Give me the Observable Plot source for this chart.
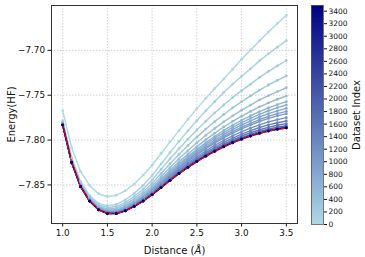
<!DOCTYPE html>
<html>
<head>
<meta charset="utf-8">
<script src="https://cdn.jsdelivr.net/npm/d3@7"></script>
<script src="https://cdn.jsdelivr.net/npm/@observablehq/plot@0.6"></script>
<style>
  html, body { margin: 0; padding: 0; background: #fff; }
  #wrap { position: relative; width: 365px; height: 257px; font-family: "DejaVu Sans", sans-serif; }
  #main { position: absolute; left: 0; top: 0; }
  #cbar { position: absolute; left: 300px; top: 0; }
</style>
</head>
<body>
<div id="wrap"><div id="main"></div><div id="cbar"></div></div>
<script>
const distances = [1.0,1.1,1.2,1.3,1.4,1.5,1.6,1.7,1.8,1.9,2.0,2.1,2.2,2.3,2.4,2.5,2.6,2.7,2.8,2.9,3.0,3.1,3.2,3.3,3.4,3.5];

const datasetIndex = [0,100,200,300,400,500,600,700,800,900,1000,1200,1400,1600,1800,2200,3490];

const energy0    = [-7.7673,-7.8085,-7.8350,-7.8505,-7.8598,-7.8629,-7.8615,-7.8565,-7.8490,-7.8390,-7.8280,-7.8150,-7.8020,-7.7895,-7.7770,-7.7650,-7.7535,-7.7425,-7.7320,-7.7210,-7.7100,-7.6995,-7.6895,-7.6795,-7.6700,-7.6610];
const energy100  = [-7.7784,-7.8196,-7.8462,-7.8617,-7.8705,-7.8731,-7.8718,-7.8668,-7.8594,-7.8505,-7.8396,-7.8267,-7.8138,-7.8015,-7.7896,-7.7782,-7.7674,-7.7570,-7.7471,-7.7377,-7.7289,-7.7205,-7.7117,-7.7038,-7.6964,-7.6891];
const energy200  = [-7.7795,-7.8209,-7.8475,-7.8631,-7.8722,-7.8751,-7.8741,-7.8696,-7.8627,-7.8545,-7.8445,-7.8327,-7.8209,-7.8097,-7.7989,-7.7887,-7.7789,-7.7696,-7.7609,-7.7526,-7.7449,-7.7376,-7.7301,-7.7234,-7.7173,-7.7113];
const energy300  = [-7.7804,-7.8218,-7.8485,-7.8642,-7.8734,-7.8767,-7.8759,-7.8717,-7.8653,-7.8575,-7.8482,-7.8373,-7.8264,-7.8160,-7.8061,-7.7967,-7.7878,-7.7794,-7.7715,-7.7641,-7.7572,-7.7508,-7.7443,-7.7386,-7.7334,-7.7284];
const energy400  = [-7.7811,-7.8225,-7.8493,-7.8651,-7.8744,-7.8779,-7.8773,-7.8734,-7.8673,-7.8599,-7.8511,-7.8409,-7.8307,-7.8209,-7.8117,-7.8029,-7.7947,-7.7870,-7.7797,-7.7730,-7.7667,-7.7610,-7.7553,-7.7504,-7.7459,-7.7417];
const energy500  = [-7.7815,-7.8230,-7.8499,-7.8657,-7.8751,-7.8787,-7.8783,-7.8745,-7.8687,-7.8616,-7.8532,-7.8434,-7.8336,-7.8243,-7.8155,-7.8073,-7.7995,-7.7922,-7.7854,-7.7791,-7.7734,-7.7681,-7.7630,-7.7585,-7.7545,-7.7509];
const energy600  = [-7.7818,-7.8234,-7.8502,-7.8661,-7.8756,-7.8793,-7.8789,-7.8753,-7.8696,-7.8627,-7.8546,-7.8451,-7.8356,-7.8267,-7.8182,-7.8102,-7.8028,-7.7958,-7.7893,-7.7834,-7.7779,-7.7729,-7.7682,-7.7641,-7.7605,-7.7572];
const energy700  = [-7.7820,-7.8236,-7.8505,-7.8663,-7.8759,-7.8796,-7.8793,-7.8758,-7.8702,-7.8634,-7.8554,-7.8461,-7.8368,-7.8280,-7.8197,-7.8120,-7.8047,-7.7979,-7.7916,-7.7858,-7.7806,-7.7758,-7.7713,-7.7673,-7.7639,-7.7609];
const energy800  = [-7.7822,-7.8238,-7.8507,-7.8666,-7.8762,-7.8799,-7.8797,-7.8763,-7.8707,-7.8641,-7.8562,-7.8471,-7.8380,-7.8294,-7.8213,-7.8137,-7.8066,-7.8000,-7.7939,-7.7883,-7.7832,-7.7786,-7.7743,-7.7706,-7.7674,-7.7646];
const energy900  = [-7.7824,-7.8240,-7.8509,-7.8668,-7.8764,-7.8802,-7.8801,-7.8767,-7.8712,-7.8647,-7.8569,-7.8480,-7.8391,-7.8307,-7.8227,-7.8153,-7.8084,-7.8020,-7.7960,-7.7906,-7.7857,-7.7813,-7.7771,-7.7736,-7.7706,-7.7680];
const energy1000 = [-7.7825,-7.8241,-7.8510,-7.8670,-7.8766,-7.8805,-7.8803,-7.8770,-7.8716,-7.8651,-7.8575,-7.8487,-7.8399,-7.8316,-7.8238,-7.8165,-7.8097,-7.8034,-7.7976,-7.7923,-7.7876,-7.7833,-7.7793,-7.7759,-7.7731,-7.7706];
const energy1200 = [-7.7827,-7.8244,-7.8513,-7.8673,-7.8769,-7.8809,-7.8808,-7.8776,-7.8723,-7.8659,-7.8585,-7.8499,-7.8413,-7.8332,-7.8257,-7.8186,-7.8120,-7.8059,-7.8004,-7.7953,-7.7907,-7.7866,-7.7830,-7.7798,-7.7772,-7.7750];
const energy1400 = [-7.7829,-7.8246,-7.8515,-7.8675,-7.8772,-7.8812,-7.8812,-7.8780,-7.8728,-7.8666,-7.8593,-7.8509,-7.8425,-7.8346,-7.8272,-7.8203,-7.8139,-7.8081,-7.8027,-7.7978,-7.7934,-7.7895,-7.7860,-7.7831,-7.7807,-7.7787];
const energy1600 = [-7.7831,-7.8247,-7.8517,-7.8677,-7.8774,-7.8815,-7.8815,-7.8784,-7.8733,-7.8671,-7.8599,-7.8517,-7.8435,-7.8357,-7.8285,-7.8217,-7.8155,-7.8098,-7.8045,-7.7998,-7.7955,-7.7918,-7.7885,-7.7858,-7.7835,-7.7817];
const energy1800 = [-7.7832,-7.8249,-7.8518,-7.8678,-7.8776,-7.8817,-7.8817,-7.8787,-7.8736,-7.8675,-7.8604,-7.8523,-7.8442,-7.8366,-7.8294,-7.8228,-7.8167,-7.8111,-7.8059,-7.8013,-7.7972,-7.7936,-7.7904,-7.7878,-7.7856,-7.7840];
const energy2200 = [-7.7833,-7.8250,-7.8520,-7.8680,-7.8777,-7.8818,-7.8819,-7.8789,-7.8739,-7.8678,-7.8608,-7.8527,-7.8447,-7.8371,-7.8301,-7.8235,-7.8175,-7.8119,-7.8069,-7.8023,-7.7983,-7.7947,-7.7917,-7.7891,-7.7871,-7.7855];
const energyFinal = [-7.7833,-7.8250,-7.8520,-7.8680,-7.8778,-7.8819,-7.8820,-7.8790,-7.8740,-7.8680,-7.8610,-7.8530,-7.8450,-7.8375,-7.8305,-7.8240,-7.8180,-7.8125,-7.8075,-7.8030,-7.7990,-7.7955,-7.7925,-7.7900,-7.7880,-7.7865];
const reference  = [-7.7833,-7.8250,-7.8520,-7.8680,-7.8778,-7.8819,-7.8820,-7.8790,-7.8740,-7.8680,-7.8610,-7.8530,-7.8450,-7.8375,-7.8305,-7.8240,-7.8180,-7.8125,-7.8075,-7.8030,-7.7990,-7.7955,-7.7925,-7.7900,-7.7880,-7.7865];

const xTicks = [1.0,1.5,2.0,2.5,3.0,3.5];
const yTicks = [-7.85,-7.80,-7.75,-7.70];
const colorTicks = [0,200,400,600,800,1000,1200,1400,1600,1800,2000,2200,2400,2600,2800,3000,3200,3400];
const colorMax = 3490;

const curves = [energy0,energy100,energy200,energy300,energy400,energy500,energy600,energy700,energy800,energy900,energy1000,energy1200,energy1400,energy1600,energy1800,energy2200,energyFinal];

const rows = [];
curves.forEach((c, i) => c.forEach((e, j) => rows.push({d: distances[j], e, idx: datasetIndex[i]})));
const refRows = reference.map((e, j) => ({d: distances[j], e}));
const finalRows = energyFinal.map((e, j) => ({d: distances[j], e, idx: colorMax}));

const colorScale = {type: "linear", domain: [0, colorMax], range: ["lightblue", "navy"], interpolate: "rgb"};

function setLabel(svg, which, parts) {
  svg.querySelectorAll(`[aria-label="${which}-axis label"] text`).forEach(t => {
    t.textContent = "";
    for (const [s, italic] of parts) {
      const ts = document.createElementNS("http://www.w3.org/2000/svg", "tspan");
      ts.textContent = s;
      if (italic) ts.setAttribute("font-style", "italic");
      t.appendChild(ts);
    }
  });
  svg.querySelectorAll(`[aria-label="${which}-axis label"]`).forEach(g => g.setAttribute("font-size", "10px"));
}

const main = Plot.plot({
  width: 305, height: 257,
  marginLeft: 51, marginRight: 8, marginTop: 5, marginBottom: 34,
  style: {fontFamily: "DejaVu Sans, sans-serif", fontSize: "8.8px", color: "#111", background: "white"},
  x: {domain: [0.875, 3.625], ticks: xTicks, tickFormat: d3.format(".1f"), tickSize: 3.5, tickPadding: 3, label: "Distance (Å)", labelAnchor: "center", labelOffset: 30},
  y: {domain: [-7.893, -7.650], ticks: yTicks, tickFormat: d3.format(".2f"), tickSize: 3.5, tickPadding: 3, label: "Energy(HF)", labelAnchor: "center", labelOffset: 44},
  color: colorScale,
  marks: [
    Plot.gridX(xTicks, {stroke: "#c8c8c8", strokeOpacity: 1, strokeWidth: 0.8, strokeDasharray: "1.5,1.5"}),
    Plot.gridY(yTicks, {stroke: "#c8c8c8", strokeOpacity: 1, strokeWidth: 0.8, strokeDasharray: "1.5,1.5"}),
    Plot.line(rows, {x: "d", y: "e", z: "idx", stroke: "idx", strokeWidth: 1.4}),
    Plot.dot(rows, {x: "d", y: "e", fill: "idx", r: 1.4}),
    Plot.line(refRows, {x: "d", y: "e", stroke: "red", strokeWidth: 1.3, strokeDasharray: "3,2"}),
    Plot.dot(finalRows, {x: "d", y: "e", fill: "idx", r: 1.4}),
    Plot.frame({stroke: "#333", strokeWidth: 1})
  ]
});
setLabel(main, "x", [["Distance (", false], ["Å", true], [")", false]]);
setLabel(main, "y", [["Energy(HF)", false]]);
document.getElementById("main").appendChild(main);

const steps = d3.range(0, colorMax, 10);
const cbar = Plot.plot({
  width: 65, height: 257,
  marginLeft: 11, marginRight: 42, marginTop: 5, marginBottom: 33,
  style: {fontFamily: "DejaVu Sans, sans-serif", fontSize: "7.5px", color: "#111", background: "transparent"},
  x: {domain: [0, 1], axis: null},
  y: {domain: [0, colorMax], ticks: colorTicks, tickFormat: d3.format("d"), axis: "right", tickSize: 3, tickPadding: 2, label: "Dataset Index", labelAnchor: "center", labelOffset: 36},
  color: colorScale,
  marks: [
    Plot.rect(steps, {x1: 0, x2: 1, y1: d => d, y2: d => Math.min(colorMax, d + 30), fill: d => d + 5, shapeRendering: "crispEdges"}),
    Plot.frame({stroke: "#555", strokeWidth: 0.8})
  ]
});
setLabel(cbar, "y", [["Dataset Index", false]]);
document.getElementById("cbar").appendChild(cbar);
</script>
</body>
</html>
